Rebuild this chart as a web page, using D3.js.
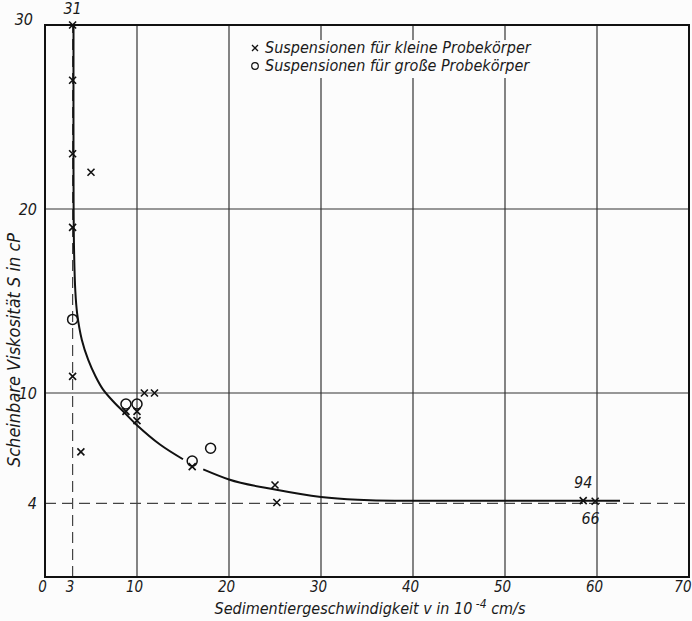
<!DOCTYPE html>
<html><head><meta charset="utf-8">
<script src="https://cdn.jsdelivr.net/npm/d3@7/dist/d3.min.js"></script>
<style>
html,body{margin:0;padding:0;background:#fcfcfc;}
svg{display:block;}
text{font-family:"DejaVu Sans Condensed","Liberation Sans Narrow","DejaVu Sans",sans-serif;font-stretch:condensed;font-style:italic;fill:#1a1a1a;}
</style></head>
<body>
<script>
// ---- data ----
const xTickValues = [0, 3, 10, 20, 30, 40, 50, 60, 70];
const yTickValues = [4, 10, 20, 30];
const xGridSolid = [10, 20, 30, 40, 50, 60];
const yGridSolid = [10, 20];
const xDashed = [3];
const yDashed = [4];

// crosses: Suspensionen für kleine Probekörper
const smallX = [3, 3, 3, 5, 3, 3, 3.9, 10.8, 11.9, 8.8, 10, 10, 16, 25, 25.2, 58.5, 59.8];
const smallY = [30, 27, 23, 22, 19, 10.9, 6.8, 10, 10, 9.0, 9.0, 8.5, 6.0, 5.0, 4.05, 4.15, 4.12];
// circles: Suspensionen für große Probekörper
const largeX = [3, 8.8, 10, 16, 18];
const largeY = [14, 9.4, 9.4, 6.3, 7.0];

// hand-drawn fit curve (two pieces, broken around the points at v≈16)
const curveAX = [3.1, 3.1, 3.15, 3.3, 3.5, 4.0, 4.7, 5.5, 6.3, 7.5, 8.7, 10, 12.5, 15];
const curveAY = [30, 22, 18, 15.5, 14.3, 12.9, 11.8, 10.9, 10.2, 9.5, 8.9, 8.25, 7.2, 6.4];
const curveBX = [17.2, 20, 25, 30, 34, 38, 45, 62.5];
const curveBY = [5.85, 5.3, 4.75, 4.35, 4.2, 4.15, 4.15, 4.15];

const pointLabels = [
  {text: "31", x: 3, y: 30, dx: 0, dy: -11},
  {text: "94", x: 58.5, y: 4.15, dx: 0, dy: -13},
  {text: "66", x: 59.3, y: 4.15, dx: 0, dy: 23}
];
const legendItems = ["Suspensionen für kleine Probekörper", "Suspensionen für große Probekörper"];

// ---- drawing ----
const W = 692, H = 621;
const svg = d3.select("body").append("svg").attr("width", W).attr("height", H);
const x = d3.scaleLinear().domain([0, 70]).range([45, 689]);
const y = d3.scaleLinear().domain([0, 30]).range([577, 25]);

const g = svg.append("g");
// solid grid
g.selectAll(".gx").data(xGridSolid).join("line")
  .attr("x1", d => x(d)).attr("x2", d => x(d)).attr("y1", y(0)).attr("y2", y(30))
  .attr("stroke", "#333").attr("stroke-width", 1.2);
g.selectAll(".gy").data(yGridSolid).join("line")
  .attr("x1", x(0)).attr("x2", x(70)).attr("y1", d => y(d)).attr("y2", d => y(d))
  .attr("stroke", "#333").attr("stroke-width", 1.2);
// dashed lines
g.selectAll(".dx").data(xDashed).join("line")
  .attr("x1", d => x(d)).attr("x2", d => x(d)).attr("y1", y(0)).attr("y2", y(30))
  .attr("stroke", "#444").attr("stroke-width", 1.2).attr("stroke-dasharray", "11,6");
g.selectAll(".dy").data(yDashed).join("line")
  .attr("x1", x(0)).attr("x2", x(70)).attr("y1", d => y(d)).attr("y2", d => y(d))
  .attr("stroke", "#444").attr("stroke-width", 1.2).attr("stroke-dasharray", "11,6");

// legend background (covers grid lines)
g.append("rect").attr("x", 243).attr("y", 40).attr("width", 294).attr("height", 38).attr("fill", "#fcfcfc");

// frame
g.append("rect").attr("x", x(0)).attr("y", y(30)).attr("width", x(70) - x(0)).attr("height", y(0) - y(30))
  .attr("fill", "none").attr("stroke", "#111").attr("stroke-width", 2);

// curve
const lineA = d3.line().x(d => x(d[0])).y(d => y(d[1])).curve(d3.curveCatmullRom.alpha(0.5));
const lineB = d3.line().x(d => x(d[0])).y(d => y(d[1])).curve(d3.curveMonotoneX);
g.append("path").datum(d3.zip(curveAX, curveAY)).attr("d", lineA)
  .attr("fill", "none").attr("stroke", "#111").attr("stroke-width", 2);
g.append("path").datum(d3.zip(curveBX, curveBY)).attr("d", lineB)
  .attr("fill", "none").attr("stroke", "#111").attr("stroke-width", 2);

// markers
const cs = 3.5;
const smallPts = d3.zip(smallX, smallY);
const cross = g.selectAll(".cr").data(smallPts).join("g")
  .attr("transform", d => `translate(${x(d[0])},${y(d[1])})`);
cross.append("path").attr("d", `M${-cs},${-cs}L${cs},${cs}M${-cs},${cs}L${cs},${-cs}`)
  .attr("stroke", "#111").attr("stroke-width", 1.6).attr("fill", "none");
g.selectAll(".ci").data(d3.zip(largeX, largeY)).join("circle")
  .attr("cx", d => x(d[0])).attr("cy", d => y(d[1])).attr("r", 5)
  .attr("fill", "none").attr("stroke", "#111").attr("stroke-width", 1.5);

// point labels
g.selectAll(".pl").data(pointLabels).join("text")
  .attr("x", d => x(d.x) + d.dx).attr("y", d => y(d.y) + d.dy)
  .attr("text-anchor", "middle").attr("font-size", 16).text(d => d.text);

// axes (labels only)
const xAxis = d3.axisBottom(x).tickValues(xTickValues).tickSize(0).tickPadding(4).tickFormat(d3.format("d"));
const xa = svg.append("g").attr("transform", `translate(-3,${y(0)})`).call(xAxis);
xa.select(".domain").remove();
xa.selectAll("text").attr("font-size", 15).style("font-family", null);
xa.selectAll(".tick").filter(d => d === 70).select("text").attr("text-anchor", "end").attr("x", 5);

const yAxis = d3.axisLeft(y).tickValues(yTickValues).tickSize(0).tickPadding(8).tickFormat(d3.format("d"));
const ya = svg.append("g").attr("transform", `translate(${x(0)},0)`).call(yAxis);
ya.select(".domain").remove();
ya.selectAll("text").attr("font-size", 16).style("font-family", null);
ya.selectAll(".tick").filter(d => d === 30).select("text").attr("dy", "-0.05em").attr("x", -12);

// axis titles
const xt = svg.append("text").attr("x", 370).attr("y", 614).attr("text-anchor", "middle").attr("font-size", 16);
xt.append("tspan").text("Sedimentiergeschwindigkeit v in 10");
xt.append("tspan").attr("dy", -6).attr("font-size", 12).text(" -4");
xt.append("tspan").attr("dy", 6).text(" cm/s");

svg.append("text").attr("transform", "translate(20,350) rotate(-90)")
  .attr("text-anchor", "middle").attr("font-size", 18)
  .text("Scheinbare Viskosität S in cP");

// legend
const lg = svg.append("g").attr("transform", "translate(255,48)");
lg.append("path").attr("d", "M-3,-3L3,3M-3,3L3,-3").attr("stroke", "#111").attr("stroke-width", 1.3);
lg.append("circle").attr("cx", 0).attr("cy", 18).attr("r", 3.3).attr("fill", "none").attr("stroke", "#111").attr("stroke-width", 1.2);
lg.selectAll(".lt").data(legendItems).join("text")
  .attr("x", 10).attr("y", (d, i) => i * 18 + 5).attr("font-size", 16).text(d => d);
</script>
</body></html>
